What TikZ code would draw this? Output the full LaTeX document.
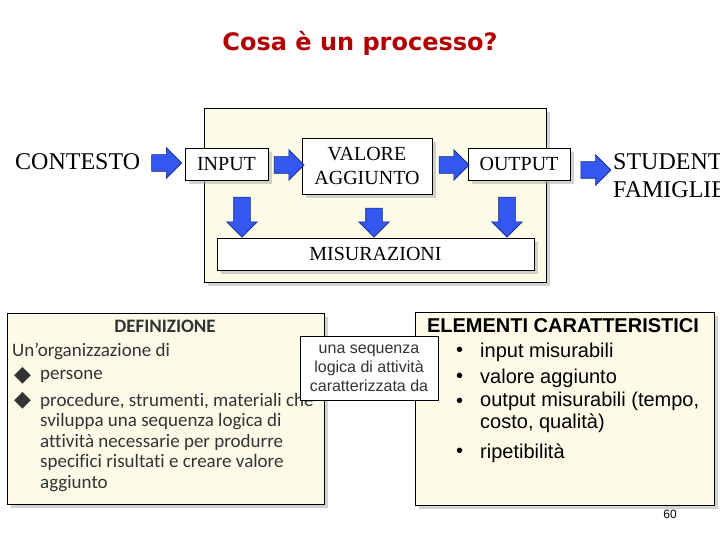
\documentclass[tikz,border=0pt]{standalone}
\usepackage{fontspec}
\usepackage{tikz}
\usetikzlibrary{calc,shapes.arrows,shadows}
\newfontfamily\timesfont{Liberation Serif}
\newfontfamily\arialfont{Liberation Sans}
\newfontfamily\calfont[Ligatures={NoCommon}]{Carlito}
\newfontfamily\verdfont{DejaVu Sans}
\definecolor{cream}{RGB}{252,251,232}
\definecolor{blockblue}{RGB}{51,88,240}
\definecolor{blockline}{RGB}{25,35,130}
\definecolor{titlered}{RGB}{176,0,0}
\definecolor{textgray}{RGB}{51,51,51}
\tikzset{
  shade box/.style={drop shadow={shadow xshift=4pt, shadow yshift=-4pt, fill=black!35, opacity=0.5}},
  panel/.style={draw=black, line width=0.8pt, fill=cream, inner sep=0pt, shade box},
  stepbox/.style={draw=black, line width=0.8pt, fill=white, inner sep=0pt, minimum height=32pt,
    font=\timesfont\fontsize{20}{24}\selectfont, align=center, shade box},
  bigword/.style={font=\timesfont\fontsize{24}{28}\selectfont, inner sep=0pt},
  rblock/.style={single arrow, draw=blockline, line width=0.6pt, fill=blockblue,
    minimum height=30pt, minimum width=30pt, single arrow head extend=7pt,
    inner xsep=0pt, inner ysep=8pt},
  dblock/.style={rblock, rotate=-90, minimum height=40pt},
  defline/.style={anchor=west, inner sep=0pt, text=textgray, font=\calfont\fontsize{19}{20.5}\selectfont},
  elline/.style={anchor=west, inner sep=0pt, font=\arialfont\fontsize{20}{22}\selectfont},
  callbox/.style={draw=black, line width=0.8pt, fill=white, inner sep=0pt, align=center,
    text=textgray, font=\arialfont\fontsize{16}{19}\selectfont}
}

\begin{document}
\begin{tikzpicture}[x=1pt,y=-1pt]
  \clip (0,0) rectangle (720,540);
  \fill[white] (0,0) rectangle (720,540);
  % title
  \node[font=\verdfont\bfseries\fontsize{24}{28}\selectfont, text=titlered] (title) at (360,43) {Cosa è un processo?};
  % process panel
  \node[panel, minimum width=342pt, minimum height=174pt] (proc) at (375,195) {};
  \node[bigword, anchor=west] (cont) at (15,162) {CONTESTO};
  \node[stepbox, minimum width=83pt] (inp) at (226.5,164) {INPUT};
  \node[stepbox, minimum width=130pt, minimum height=56pt] (val) at (367,166) {VALORE\\AGGIUNTO};
  \node[stepbox, minimum width=102pt] (out) at (519,164) {OUTPUT};
  \node[bigword, anchor=west, align=left] (stud) at (613,176) {STUDENTI\\FAMIGLIE};
  \node[stepbox, minimum width=317pt] (mis) at (375.5,254) {MISURAZIONI};
  % block arrows
  \node[rblock] (r1) at ($(cont.east)!0.5!(inp.west)$) {};
  \node[rblock] (r2) at ($(inp.east)!0.5!(val.west)$) {};
  \node[rblock] (r3) at ($(val.east)!0.5!(out.west)$) {};
  \node[rblock] (r4) at ($(out.east)!0.5!(stud.west)$) {};
  \node[dblock] (d1) at (242,213) {};
  \node[dblock, minimum height=29pt] (d2) at (374,218.5) {};
  \node[dblock] (d3) at (507,213) {};
  % definizione
  \node[panel, minimum width=317pt, minimum height=191pt] (def) at (165.5,408.5) {};
  \node[defline, anchor=center, font=\calfont\bfseries\fontsize{19}{20}\selectfont] (deftit) at (165,326) {DEFINIZIONE};
  \node[defline] (dl1) at (12,351) {Un’organizzazione di};
  \node[defline, font=\verdfont\fontsize{22}{22}\selectfont] (db1) at (14,376) {◆};
  \node[defline] (dl2) at (40,376) {persone};
  \node[defline, font=\verdfont\fontsize{22}{22}\selectfont] (db2) at (14,401) {◆};
  \node[defline, anchor=north west, align=left] (dl3) at (40,393) {procedure, strumenti, materiali che\\
    sviluppa una sequenza logica di\\attività necessarie per produrre\\
    specifici risultati e creare valore\\aggiunto};
  % elementi
  \node[panel, minimum width=299pt, minimum height=193pt] (elem) at (564.5,408.5) {};
  \node[elline, anchor=center, font=\arialfont\bfseries\fontsize{20}{22}\selectfont] (eltit) at (563,326) {ELEMENTI CARATTERISTICI};
  \foreach \yy/\txt [count=\i] in {352/input misurabili, 378/valore aggiunto, 453/ripetibilità}{
    \node[elline] (eb\i) at (456,\yy) {•};
    \node[elline] (el\i) at (480,\yy) {\txt};
  }
  \node[elline] (eb4) at (456,403) {•};
  \node[elline, anchor=north west, align=left] (el4) at (480,392) {output misurabili (tempo,\\costo, qualità)};
  % callout
  \node[callbox, minimum width=138pt, minimum height=64pt] (call) at (369,368) {una sequenza\\logica di attività\\caratterizzata da};
  \node[font=\arialfont\fontsize{12}{14}\selectfont] (page) at (670,514) {60};
\end{tikzpicture}
\end{document}
